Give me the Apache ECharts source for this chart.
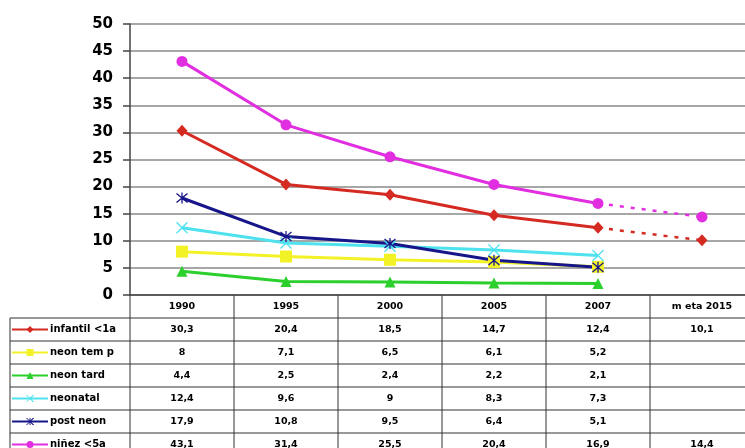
<!DOCTYPE html>
<html>
<head>
<meta charset="utf-8">
<script src="https://cdn.jsdelivr.net/npm/echarts@6/dist/echarts.min.js"></script>
<style>
  html, body { margin: 0; padding: 0; background: #fff; }
  #chart { width: 745px; height: 448px; }
</style>
</head>
<body>
<div id="chart"></div>
<script>
// Categories (last column is the 2015 target)
const categories = ['1990', '1995', '2000', '2005', '2007', 'm eta 2015'];

// Mortality rates per 1000
const infantil = [30.3, 20.4, 18.5, 14.7, 12.4];
const infantilMeta = 10.1;
const neonTemp = [8, 7.1, 6.5, 6.1, 5.2];
const neonTard = [4.4, 2.5, 2.4, 2.2, 2.1];
const neonatal = [12.4, 9.6, 9, 8.3, 7.3];
const postNeon = [17.9, 10.8, 9.5, 6.4, 5.1];
const ninez = [43.1, 31.4, 25.5, 20.4, 16.9];
const ninezMeta = 14.4;

const yTicks = { min: 0, max: 50, interval: 5 };

const seriesNames = ['infantil <1a', 'neon tem p', 'neon tard', 'neonatal', 'post neon', 'niñez <5a'];
const seriesColors = ['#d42a22', '#f2f226', '#2cd02c', '#4ee2ee', '#16168a', '#e02ee0'];

const X_PATH = 'path://M0,0L10,10M10,0L0,10';
const STAR_PATH = 'path://M0,0L10,10M10,0L0,10M5,-1L5,11';

function solid(name, data, color, symbol, size, extra) {
  return Object.assign({
    name: name, type: 'line', data: data.concat([null]),
    symbol: symbol, symbolSize: size,
    lineStyle: { color: color, width: 3 },
    itemStyle: { color: color },
    z: 3
  }, extra || {});
}
function dashed(name, last, meta, color, symbol, size) {
  const d = [null, null, null, null, { value: last, symbol: 'none' }, meta];
  return {
    name: name + ' meta', type: 'line', data: d,
    symbol: symbol, symbolSize: size,
    lineStyle: { color: color, width: 2.5, type: [4, 7] },
    itemStyle: { color: color },
    z: 3
  };
}

const chart = echarts.init(document.getElementById('chart'), null, { renderer: 'canvas' });

chart.setOption({
  animation: false,
  backgroundColor: '#ffffff',
  // plot runs past the right edge of the canvas, like the table under it
  grid: { left: 130, top: 24, width: 624, height: 271, containLabel: false, outerBoundsMode: 'none' },
  xAxis: {
    type: 'category', data: categories, boundaryGap: true,
    axisLine: { lineStyle: { color: '#444', width: 1.5 } },
    axisTick: { show: false },
    axisLabel: { show: false },
    splitLine: { show: false }
  },
  yAxis: {
    type: 'value', min: yTicks.min, max: yTicks.max, interval: yTicks.interval,
    axisLine: { show: true, lineStyle: { color: '#444', width: 1.5 } },
    axisTick: { show: true, inside: false, length: 7, lineStyle: { color: '#444', width: 1.5 } },
    axisLabel: { margin: 17, color: '#000', fontFamily: 'DejaVu Sans', fontWeight: 'bold', fontSize: 15 },
    splitLine: { lineStyle: { color: '#8a8a8a', width: 1.5 } }
  },
  series: [
    solid(seriesNames[0], infantil, seriesColors[0], 'diamond', [11, 12]),
    dashed(seriesNames[0], infantil[4], infantilMeta, seriesColors[0], 'diamond', [11, 12]),
    solid(seriesNames[1], neonTemp, seriesColors[1], 'rect', 12),
    solid(seriesNames[2], neonTard, seriesColors[2], 'triangle', 11),
    solid(seriesNames[3], neonatal, seriesColors[3], X_PATH, 11,
      { itemStyle: { color: seriesColors[3], borderColor: seriesColors[3], borderWidth: 1.3 } }),
    solid(seriesNames[4], postNeon, seriesColors[4], STAR_PATH, 11,
      { itemStyle: { color: seriesColors[4], borderColor: seriesColors[4], borderWidth: 1.3 } }),
    solid(seriesNames[5], ninez, seriesColors[5], 'circle', 11),
    dashed(seriesNames[5], ninez[4], ninezMeta, seriesColors[5], 'circle', 11)
  ]
});

// Data table under the plot
function fmt(v) { return v == null ? '' : String(v).replace('.', ','); }

function legendMarker(idx, cx, cy, color) {
  const s = 3.5;
  switch (idx) {
    case 0: return { type: 'polygon', shape: { points: [[cx, cy - s], [cx + s, cy], [cx, cy + s], [cx - s, cy]] }, style: { fill: color } };
    case 1: return { type: 'rect', shape: { x: cx - s, y: cy - s, width: 2 * s, height: 2 * s }, style: { fill: color } };
    case 2: return { type: 'polygon', shape: { points: [[cx, cy - s], [cx + s, cy + s], [cx - s, cy + s]] }, style: { fill: color } };
    case 3: return { type: 'polyline', shape: { points: [[cx - s, cy - s], [cx + s, cy + s], [cx, cy], [cx + s, cy - s], [cx - s, cy + s]] }, style: { stroke: color, lineWidth: 1, fill: null } };
    case 4: return { type: 'group', children: [
      { type: 'polyline', shape: { points: [[cx - s, cy - s], [cx + s, cy + s], [cx, cy], [cx + s, cy - s], [cx - s, cy + s]] }, style: { stroke: color, lineWidth: 1, fill: null } },
      { type: 'line', shape: { x1: cx, y1: cy - s, x2: cx, y2: cy + s }, style: { stroke: color, lineWidth: 1 } }
    ] };
    default: return { type: 'circle', shape: { cx: cx, cy: cy, r: s }, style: { fill: color } };
  }
}

function buildTable() {
  const rows = [
    infantil.concat([infantilMeta]),
    neonTemp.concat([null]),
    neonTard.concat([null]),
    neonatal.concat([null]),
    postNeon.concat([null]),
    ninez.concat([ninezMeta])
  ];
  const centers = categories.map(c => chart.convertToPixel({ xAxisIndex: 0 }, c));
  const band = centers[1] - centers[0];
  const axisY = chart.convertToPixel({ yAxisIndex: 0 }, 0);
  const headerH = 23, rowH = 23;
  const legendLeft = 10;
  const plotLeft = centers[0] - band / 2;
  const right = centers[centers.length - 1] + band / 2;
  const bottom = axisY + headerH + rowH * rows.length;
  const border = '#333';
  const els = [];
  const textStyle = { fontFamily: 'DejaVu Sans', fontWeight: 'bold', fontSize: 9.5, fill: '#000' };

  // vertical column dividers
  for (let i = 0; i <= categories.length; i++) {
    const x = plotLeft + band * i;
    els.push({ type: 'line', shape: { x1: x, y1: axisY, x2: x, y2: bottom }, style: { stroke: border, lineWidth: 1 } });
  }
  els.push({ type: 'line', shape: { x1: legendLeft, y1: axisY + headerH, x2: legendLeft, y2: bottom }, style: { stroke: border, lineWidth: 1 } });
  // horizontal row lines
  for (let r = 0; r <= rows.length; r++) {
    const y = axisY + headerH + rowH * r;
    els.push({ type: 'line', shape: { x1: legendLeft, y1: y, x2: right, y2: y }, style: { stroke: border, lineWidth: 1 } });
  }
  // header
  categories.forEach((c, i) => {
    els.push({ type: 'text', style: Object.assign({ text: c, x: centers[i], y: axisY + headerH / 2, align: 'center', verticalAlign: 'middle' }, textStyle) });
  });
  // rows
  rows.forEach((vals, r) => {
    const cy = axisY + headerH + rowH * r + rowH / 2;
    const color = seriesColors[r];
    els.push({ type: 'line', shape: { x1: legendLeft + 2, y1: cy, x2: 48, y2: cy }, style: { stroke: color, lineWidth: 2 } });
    els.push(legendMarker(r, 30, cy, color));
    els.push({ type: 'text', style: Object.assign({}, textStyle, { text: seriesNames[r], x: 50, y: cy, align: 'left', verticalAlign: 'middle', fontSize: 10 }) });
    vals.forEach((v, i) => {
      els.push({ type: 'text', style: Object.assign({ text: fmt(v), x: centers[i], y: cy, align: 'center', verticalAlign: 'middle' }, textStyle) });
    });
  });
  chart.setOption({ graphic: [{ type: 'group', children: els }] });
}
buildTable();
</script>
</body>
</html>
